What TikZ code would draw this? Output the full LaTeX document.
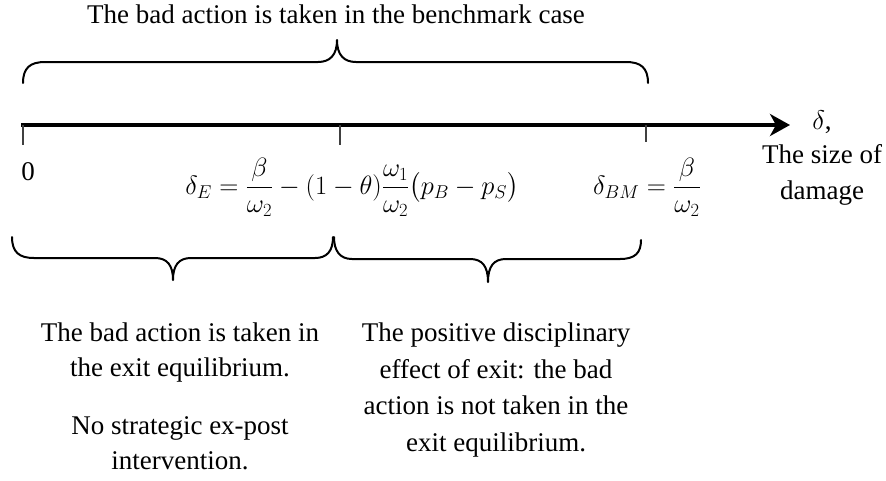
\documentclass[tikz,border=0pt]{standalone}
\usepackage{fix-cm}
\usepackage{amsmath}
\usepackage{fontspec}
\setmainfont{Liberation Serif}
\usetikzlibrary{arrows.meta}
\tikzset{
  brace/.style={line width=2pt, line cap=round, line join=round},
  axisline/.style={line width=4pt, -{Stealth[length=20pt,width=22pt,inset=6pt]}},
  tick/.style={line width=1.2pt, draw=black!75},
  lbl/.style={inner sep=0pt, font=\fontsize{27}{36}\selectfont},
  mathlbl/.style={inner sep=0pt, font=\fontsize{26.5}{36}\selectfont},
  para/.style={inner sep=0pt, align=center, font=\fontsize{27}{36.7}\selectfont},
  paraL/.style={inner sep=0pt, align=center, font=\fontsize{27}{35}\selectfont},
}
\begin{document}
\begin{tikzpicture}[x=1pt,y=-1pt]
\useasboundingbox (0,0) rectangle (886,480);
% title
\node[lbl] (title) at (336,14) {The bad action is taken in the benchmark case};
% top brace
\draw[brace] (23,83) .. controls (23,68) and (30,62) .. (45,62) -- (318,62)
  .. controls (330,62) and (337,55) .. (337,40)
  .. controls (337,55) and (344,62) .. (356,62) -- (626,62)
  .. controls (641,62) and (648,68) .. (648,83);
% axis
\coordinate (a0) at (21,125);
\coordinate (aend) at (790,125);
\draw[axisline] (a0) -- (aend);
\coordinate (t0) at (23,125);
\coordinate (t0b) at (23,145);
\coordinate (t1) at (340,125);
\coordinate (t1b) at (340,145);
\coordinate (t2) at (646,125);
\coordinate (t2b) at (646,142);
\draw[tick] (t0) -- (t0b);
\draw[tick] (t1) -- (t1b);
\draw[tick] (t2) -- (t2b);
% axis labels
\node[lbl] (delta) at (822,122) {$\delta$,};
\node[para] (size) at (822,175) {The size of\\damage};
\node[lbl] (zero) at (28,172) {0};
\node[mathlbl] (dE) at (352,187) {$\delta_E=\dfrac{\beta}{\omega_2}-(1-\theta)\dfrac{\omega_1}{\omega_2}\bigl(p_B-p_S\bigr)$};
\node[mathlbl] (dBM) at (647,187) {$\delta_{BM}=\dfrac{\beta}{\omega_2}$};
% bottom braces
\draw[brace] (12,237) .. controls (12,252) and (19,258) .. (34,258) -- (155,258)
  .. controls (167,258) and (173,265) .. (173,280)
  .. controls (173,265) and (179,258) .. (191,258) -- (315,258)
  .. controls (327,258) and (333,251) .. (333,237);
\draw[brace] (334,237) .. controls (334,251) and (340,259) .. (352,259) -- (470,259)
  .. controls (482,259) and (488,266) .. (488,282)
  .. controls (488,266) and (494,259) .. (506,259) -- (620,259)
  .. controls (635,259) and (641,253) .. (641,240);
% bottom texts
\node[paraL] (left1) at (180,352) {The bad action is taken in\\the exit equilibrium.};
\node[paraL] (left2) at (180,443) {No strategic ex-post\\intervention.};
\node[para] (right) at (496,390) {The positive disciplinary\\effect of exit: the bad\\action is not taken in the\\exit equilibrium.};
\end{tikzpicture}
\end{document}
